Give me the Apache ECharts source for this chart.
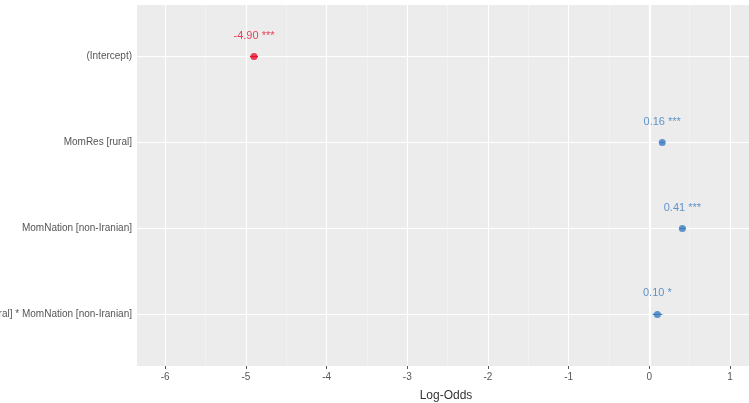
<!DOCTYPE html>
<html><head><meta charset="utf-8">
<script src="https://cdn.jsdelivr.net/npm/echarts@6/dist/echarts.min.js"></script>
<style>html,body{margin:0;padding:0;background:#fff}#c{width:749px;height:403px}</style>
</head><body><div id="c"></div>
<script>
const categories = ['(Intercept)', 'MomRes [rural]', 'MomNation [non-Iranian]', 'MomRes [rural] * MomNation [non-Iranian]'];
const estimates = [-4.90, 0.16, 0.41, 0.10];
const ciLow = [-4.95, 0.13, 0.37, 0.04];
const ciHigh = [-4.85, 0.19, 0.45, 0.16];
const stars = ['***', '***', '***', '*'];
const pointColors = ['#e8122f', '#3a7dc0', '#3a7dc0', '#3a7dc0'];
const xTicks = [-6, -5, -4, -3, -2, -1, 0, 1];
const xMinorTicks = [-5.5, -4.5, -3.5, -2.5, -1.5, -0.5, 0.5];
const yPos = categories.map((c, i) => i + 1);

const font = 'Liberation Sans, Arial, sans-serif';
const chart = echarts.init(document.getElementById('c'), null, {renderer: 'canvas'});

const gridLines = [];
xMinorTicks.forEach(v => gridLines.push({xAxis: v, lineStyle: {color: '#f7f7f7', width: 0.6, type: 'solid'}}));
xTicks.forEach(v => gridLines.push({xAxis: v, lineStyle: {color: '#ffffff', width: v === 0 ? 2.2 : 1.1, type: 'solid'}}));
yPos.forEach(v => gridLines.push({yAxis: v, lineStyle: {color: '#ffffff', width: 1.1, type: 'solid'}}));

chart.setOption({
  animation: false,
  textStyle: {fontFamily: font},
  grid: {left: 137, top: 5, width: 618, height: 361, show: true, backgroundColor: '#ececec', borderWidth: 0,
    containLabel: false, outerBoundsMode: 'none'},
  xAxis: {
    type: 'value', min: -6.35, max: 1.31,
    name: 'Log-Odds', nameLocation: 'middle', nameGap: 24,
    nameTextStyle: {fontSize: 12, color: '#333', fontFamily: font},
    axisLine: {show: false},
    splitLine: {show: false},
    axisTick: {show: true, length: 3, customValues: xTicks, lineStyle: {color: '#555'}},
    axisLabel: {customValues: xTicks, fontSize: 10, color: '#555', margin: 6, fontFamily: font}
  },
  yAxis: {
    type: 'value', inverse: true, min: 0.4, max: 4.6,
    axisLine: {show: false},
    splitLine: {show: false},
    axisTick: {show: true, length: 3, customValues: yPos, lineStyle: {color: '#555'}},
    axisLabel: {customValues: yPos, fontSize: 10, color: '#555', margin: 5, fontFamily: font,
      formatter: v => categories[Math.round(v) - 1] || ''}
  },
  series: [
    {
      type: 'line', data: [], silent: true, z: 1,
      markLine: {silent: true, z: 1, symbol: 'none', label: {show: false}, animation: false, data: gridLines}
    },
    {
      type: 'custom',
      silent: true,
      data: categories.map((c, i) => [ciLow[i], ciHigh[i], yPos[i], i]),
      renderItem: (params, api) => {
        const a = api.coord([api.value(0), api.value(2)]);
        const b = api.coord([api.value(1), api.value(2)]);
        return {type: 'line', shape: {x1: a[0], y1: a[1], x2: b[0], y2: b[1]},
          style: {stroke: pointColors[api.value(3)], lineWidth: 1.2}};
      },
      z: 8
    },
    {
      type: 'scatter',
      symbolSize: 7,
      z: 10,
      data: categories.map((c, i) => ({
        value: [estimates[i], yPos[i]],
        itemStyle: {color: pointColors[i]},
        label: {color: pointColors[i]}
      })),
      label: {
        show: true, position: 'top', distance: 12, fontSize: 11, fontFamily: font,
        formatter: p => estimates[p.dataIndex].toFixed(2) + ' ' + stars[p.dataIndex]
      }
    }
  ]
});
</script></body></html>
